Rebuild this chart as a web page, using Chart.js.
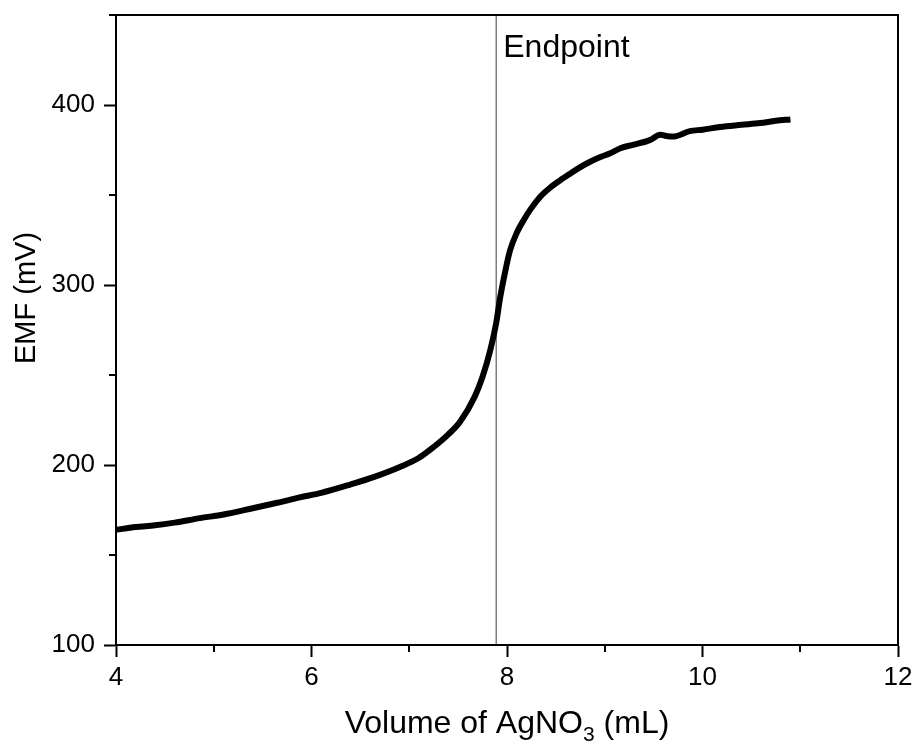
<!DOCTYPE html>
<html>
<head>
<meta charset="utf-8">
<script src="https://cdn.jsdelivr.net/npm/chart.js@4.4.0/dist/chart.umd.min.js"></script>
<style>
  body { margin: 0; background: #fff; }
</style>
</head>
<body>
<canvas id="myChart" width="917" height="745"></canvas>
<script>
// titration curve
var volume = [4.0, 4.2, 4.4, 4.6, 4.86, 5.1, 5.4, 5.65, 5.88, 6.1, 6.39, 6.65, 6.91, 7.1, 7.25, 7.4,
              7.52, 7.67, 7.75, 7.83, 7.89, 7.93, 7.98, 8.03, 8.10, 8.17, 8.24, 8.34, 8.44, 8.54, 8.65,
              8.75, 8.85, 8.95, 9.05, 9.16, 9.3, 9.46, 9.57, 9.63, 9.70, 9.87, 10.0, 10.18, 10.4, 10.59,
              10.75, 10.9];
var emf = [164, 165.5, 166.5, 168, 170.5, 172.5, 176, 179, 182, 184.5, 189, 193.5, 199, 204, 210, 217,
           224, 238, 249, 264, 279, 293, 307, 319, 329, 336, 342, 349, 354, 358, 362,
           365.5, 368.5, 371, 373, 376, 378, 380.5, 383.5, 382.8, 382.5, 385.5, 386.3, 387.8, 389, 390,
           391.2, 392];
var endpoint = 7.89;
var xTicks = [4, 6, 8, 10, 12];
var yTicks = [100, 200, 300, 400];

var points = volume.map(function (v, i) { return { x: v, y: emf[i] }; });

var font = "Arial, 'Liberation Sans', sans-serif";

var extras = {
    id: 'extras',
    afterDraw: function (chart) {
        var c = chart.ctx, a = chart.chartArea;
        var xs = chart.scales.x, ys = chart.scales.y;
        c.save();
        c.strokeStyle = '#000';
        c.lineWidth = 2;
        c.strokeRect(a.left, a.top, a.right - a.left, a.bottom - a.top);

        // minor ticks
        c.beginPath();
        [5, 7, 9, 11].forEach(function (v) {
            var px = Math.round(xs.getPixelForValue(v));
            c.moveTo(px, a.bottom); c.lineTo(px, a.bottom + 7);
        });
        [150, 250, 350, 450].forEach(function (v) {
            var py = Math.round(ys.getPixelForValue(v));
            c.moveTo(a.left, py); c.lineTo(a.left - 7, py);
        });
        c.stroke();

        c.fillStyle = '#000';
        // endpoint label
        c.font = '32px ' + font;
        c.textAlign = 'left';
        c.textBaseline = 'alphabetic';
        c.fillText('Endpoint', xs.getPixelForValue(endpoint) + 7, 57);

        // x title with subscript
        var p1 = 'Volume of AgNO', p2 = '3', p3 = ' (mL)';
        c.font = '32px ' + font;
        var w1 = c.measureText(p1).width, w3 = c.measureText(p3).width;
        c.font = '21px ' + font;
        var w2 = c.measureText(p2).width;
        var cx = (a.left + a.right) / 2;
        var x0 = cx - (w1 + w2 + w3) / 2;
        c.font = '32px ' + font;
        c.fillText(p1, x0, 733);
        c.font = '21px ' + font;
        c.fillText(p2, x0 + w1, 741);
        c.font = '32px ' + font;
        c.fillText(p3, x0 + w1 + w2, 733);

        // y title
        c.translate(35, 298);
        c.rotate(-Math.PI / 2);
        c.font = '29px ' + font;
        c.textAlign = 'center';
        c.fillText('EMF (mV)', 0, 0);
        c.restore();
    }
};

var ctx = document.getElementById('myChart');

var myChart = new Chart(ctx, {
    type: 'line',
    data: {
        datasets: [
            {
                data: points,
                borderColor: '#000',
                borderWidth: 6,
                pointRadius: 0,
                cubicInterpolationMode: 'monotone',
                order: 1
            },
            {
                data: [{ x: endpoint, y: 100 }, { x: endpoint, y: 450 }],
                borderColor: '#7f7f7f',
                borderWidth: 1.5,
                pointRadius: 0,
                order: 2
            }
        ]
    },
    options: {
        responsive: false,
        devicePixelRatio: 1,
        animation: false,
        layout: { padding: { top: 15, right: 19, left: 0, bottom: 0 } },
        plugins: { legend: { display: false }, tooltip: { enabled: false } },
        scales: {
            x: {
                type: 'linear',
                min: 4, max: 12,
                border: { color: '#000', width: 2 },
                grid: {
                    drawOnChartArea: false,
                    tickLength: 12,
                    tickWidth: 2,
                    tickColor: function (c) { return xTicks.indexOf(c.tick.value) >= 0 ? '#000' : 'rgba(0,0,0,0)'; }
                },
                ticks: {
                    stepSize: 1,
                    autoSkip: false,
                    maxRotation: 0,
                    padding: 5,
                    color: '#000',
                    font: { family: font, size: 26 },
                    callback: function (v) { return xTicks.indexOf(v) >= 0 ? v : ''; }
                },
                afterFit: function (s) { s.height = 100; s.paddingLeft = 0; s.paddingRight = 0; }
            },
            y: {
                min: 100, max: 450,
                border: { color: '#000', width: 2 },
                grid: {
                    drawOnChartArea: false,
                    tickLength: 12,
                    tickWidth: 2,
                    tickColor: function (c) { return yTicks.indexOf(c.tick.value) >= 0 ? '#000' : 'rgba(0,0,0,0)'; }
                },
                ticks: {
                    stepSize: 50,
                    autoSkip: false,
                    padding: 9,
                    color: '#000',
                    font: { family: font, size: 26 },
                    callback: function (v) { return yTicks.indexOf(v) >= 0 ? v : ''; }
                },
                afterFit: function (s) { s.width = 116; s.paddingTop = 0; s.paddingBottom = 0; }
            }
        }
    },
    plugins: [extras]
});
</script>
</body>
</html>
